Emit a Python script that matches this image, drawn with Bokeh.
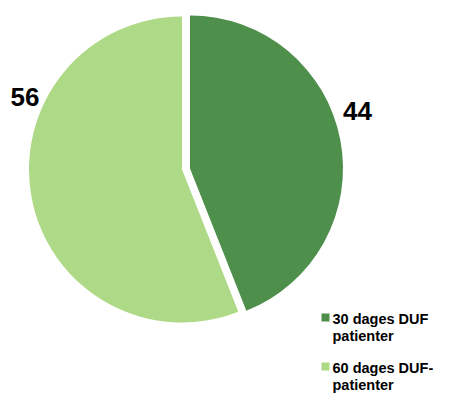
import math
from bokeh.plotting import figure
from bokeh.models import Range1d
from bokeh.core.properties import value
from bokeh.embed import file_html
from bokeh.resources import INLINE

# ---- data ----
categories = ["30 dages DUF\npatienter", "60 dages DUF-\npatienter"]
values = [44, 56]
colors = ["#4f8f4c", "#aed987"]

W, H = 433, 396
p = figure(width=W, height=H, output_backend="svg", toolbar_location=None,
           x_range=Range1d(0, W), y_range=Range1d(0, H), min_border=0)
p.axis.visible = False
p.grid.visible = False
p.outline_line_color = None
p.background_fill_color = "white"
p.border_fill_color = "white"

def X(ix):
    return ix

def Y(iy):
    return H - iy

FONT = value("Liberation Sans")
R = 153
centers = [(189.5, 168), (181.5, 169)]   # pixel centres (first slice exploded)
label_pos = [(357, 110), (24.5, 96)]      # label baselines (px)

total = float(sum(values))
cum = 0.0
for i, v in enumerate(values):
    a0 = cum / total * 360.0
    cum += v
    a1 = cum / total * 360.0
    start = math.radians(90 - a1)
    end = math.radians(90 - a0)
    cx, cy = centers[i]
    p.wedge(x=X(cx), y=Y(cy), radius=R, start_angle=start, end_angle=end,
            fill_color=colors[i], line_color=None)
    lx, ly = label_pos[i]
    p.text(x=[X(lx)], y=[Y(ly)], text=[str(v)], text_font=FONT,
           text_font_style="bold", text_font_size="26px", text_color="black",
           text_align="center", text_baseline="alphabetic")

# ---- legend ----
leg_marker = [(325, 317), (325, 366)]
leg_base = [318, 367]
line_h = 17
for i, lab in enumerate(categories):
    mx, my = leg_marker[i]
    p.rect(x=X(mx), y=Y(my), width=8, height=8, fill_color=colors[i], line_color=None)
    for j, line in enumerate(lab.split("\n")):
        p.text(x=[X(332)], y=[Y(leg_base[i] + j * line_h)], text=[line], text_font=FONT,
               text_font_style="bold", text_font_size="14.5px", text_color="black",
               text_align="left", text_baseline="alphabetic")

open("out.html", "w").write(file_html(p, INLINE))
